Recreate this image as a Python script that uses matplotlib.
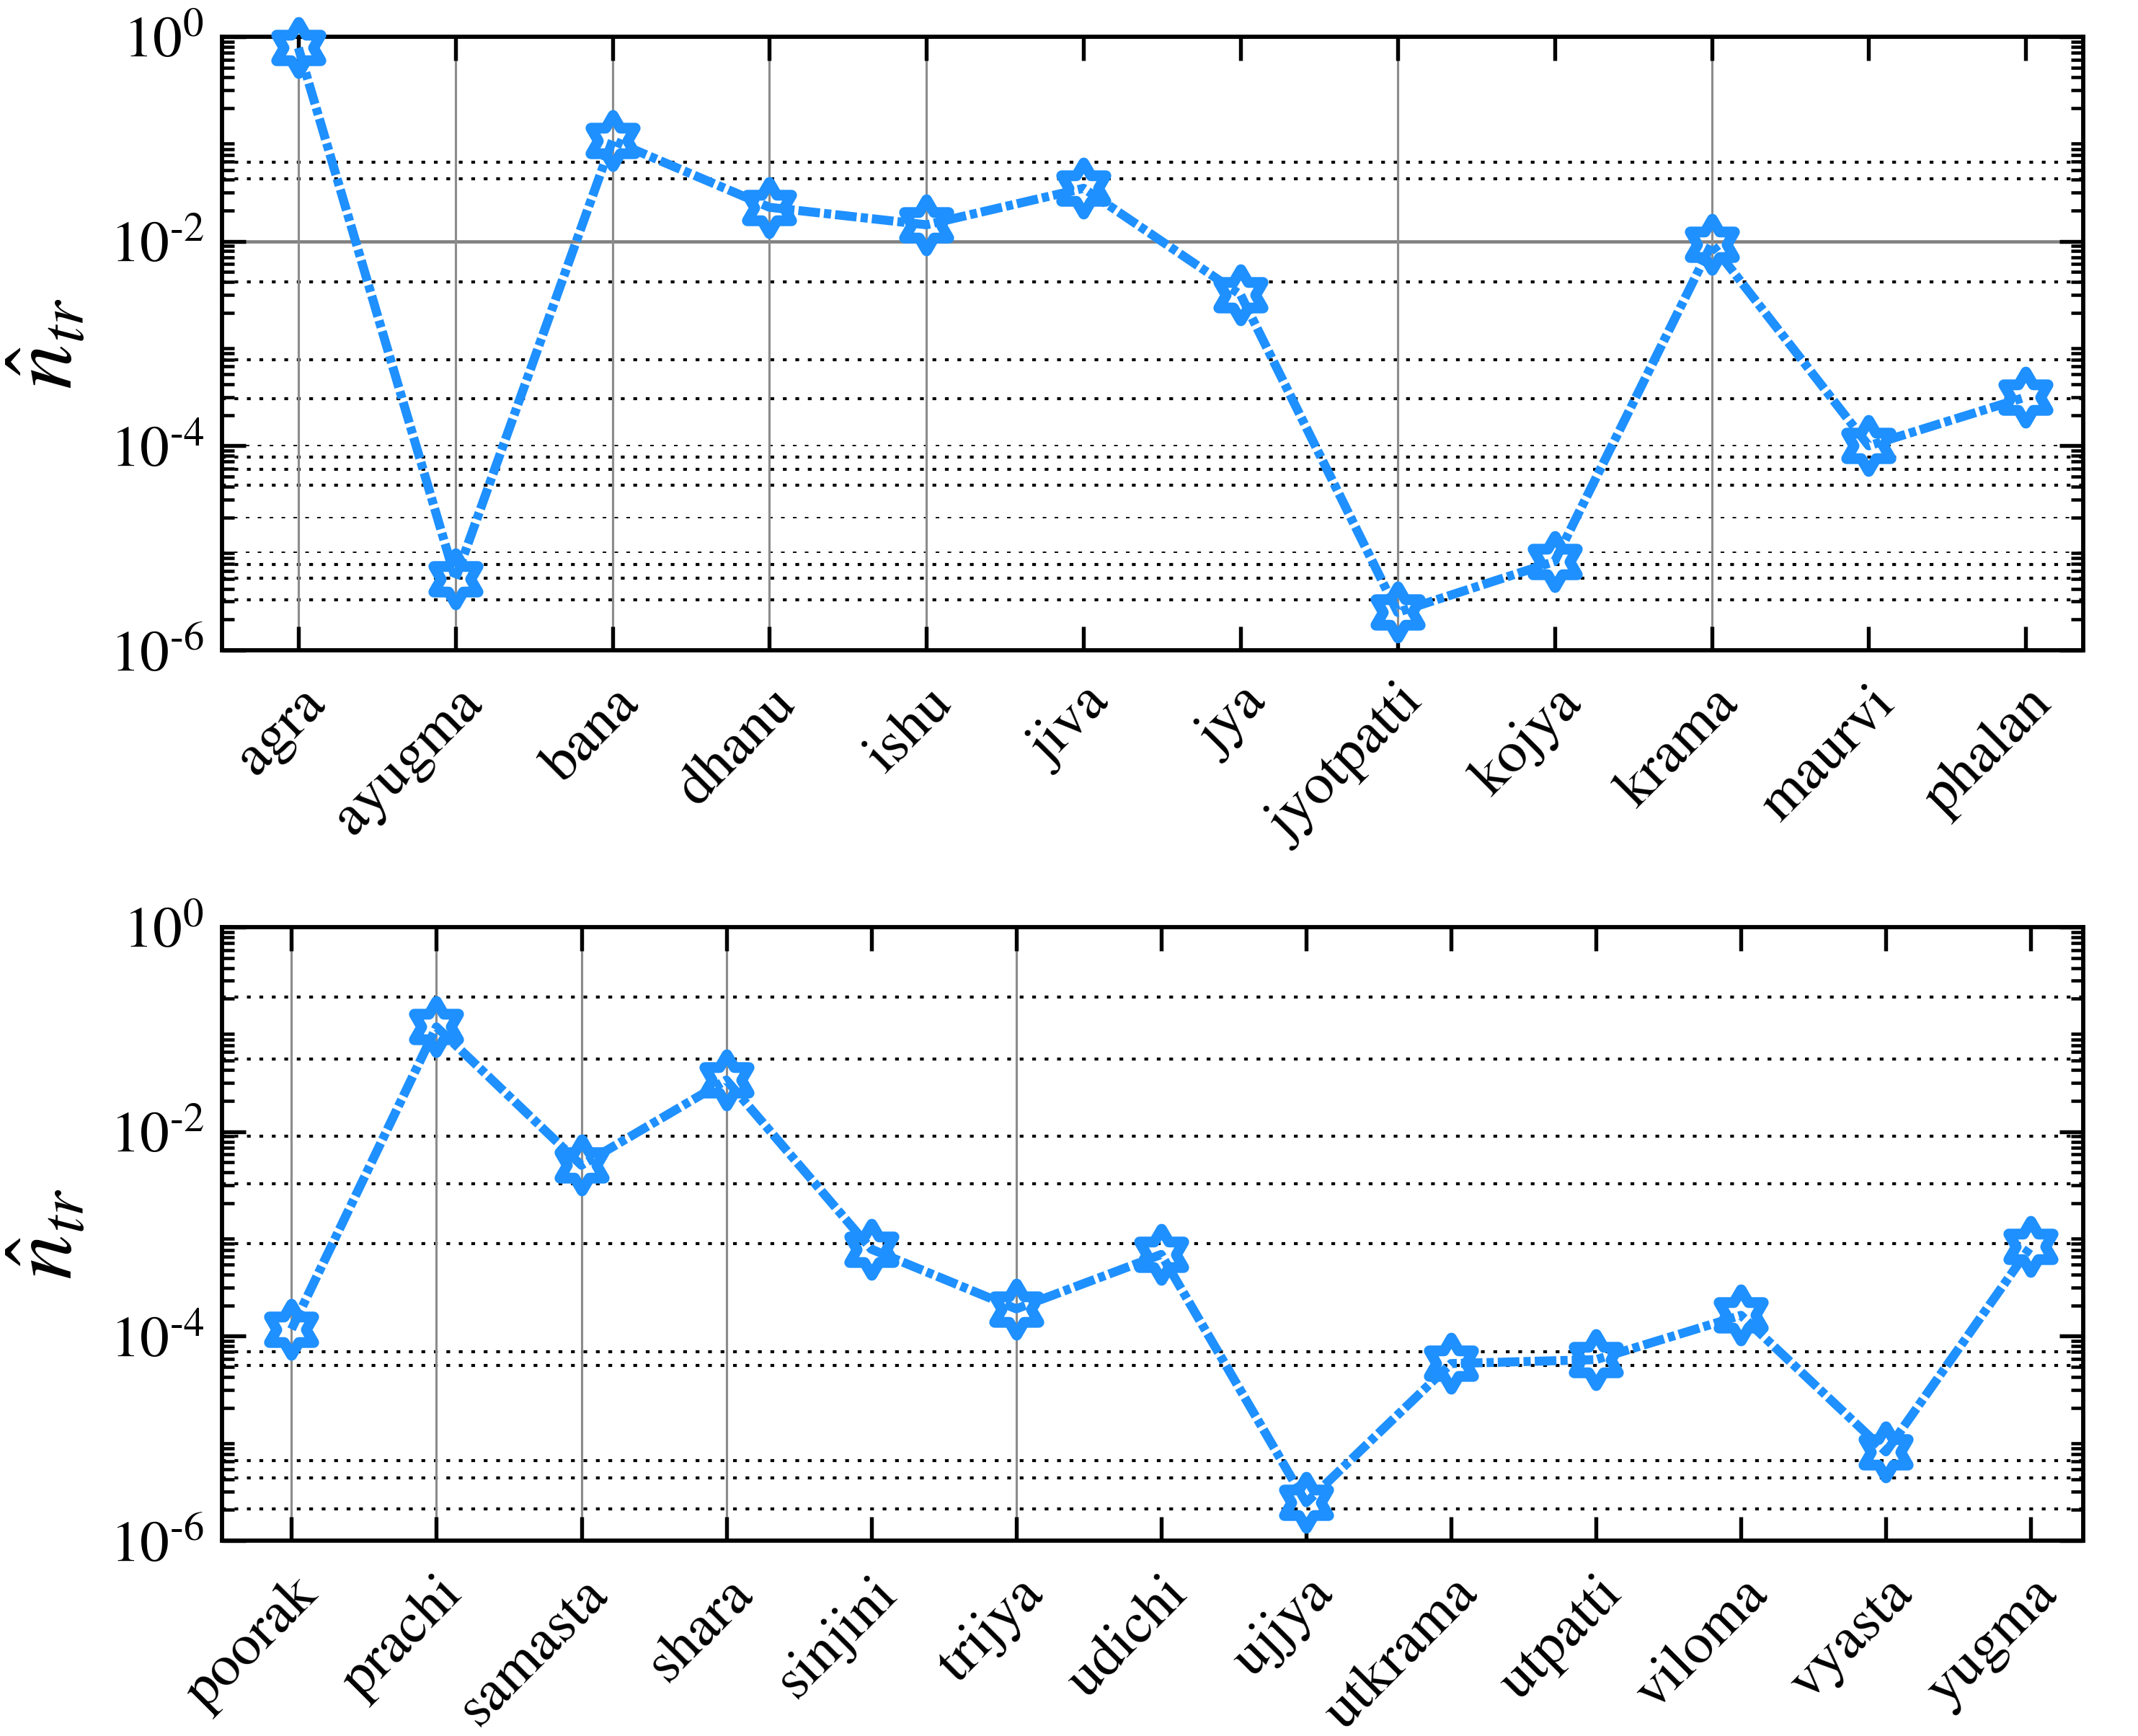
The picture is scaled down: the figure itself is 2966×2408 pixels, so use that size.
import numpy as np
import matplotlib
matplotlib.use("Agg")
import matplotlib.pyplot as plt
from matplotlib.path import Path
from matplotlib.markers import MarkerStyle
from matplotlib.ticker import FixedLocator, FixedFormatter, LogLocator, NullFormatter

plt.rcParams['font.family'] = ['STIXGeneral', 'Liberation Serif', 'DejaVu Serif']
plt.rcParams['mathtext.fontset'] = 'stix'

# ---------------- data ----------------
top_labels = ['agra', 'ayugma', 'bana', 'dhanu', 'ishu', 'jiva', 'jya',
              'jyotpatti', 'kojya', 'krama', 'maurvi', 'phalan']
top_values = [0.78, 5.0e-6, 0.097, 0.0215, 0.0145, 0.033, 0.003,
              2.35e-6, 7.4e-6, 0.0094, 1.0e-4, 3.0e-4]

bot_labels = ['poorak', 'prachi', 'samasta', 'shara', 'sinjini', 'trijya',
              'udichi', 'ujjya', 'utkrama', 'utpatti', 'viloma', 'vyasta', 'yugma']
bot_values = [1.17e-4, 0.106, 0.0047, 0.032, 7.1e-4, 1.85e-4, 6.3e-4,
              2.35e-6, 5.4e-5, 5.9e-5, 1.6e-4, 7.4e-6, 7.6e-4]

# horizontal dotted reference levels (grid)
top_hlines_bold = [0.0593, 0.041, 0.004, 6.9e-4, 2.9e-4, 7.8e-5, 5.9e-5, 4.1e-5,
                   6.9e-6, 5.1e-6, 3.1e-6]
top_hlines_thin = [1.0e-4, 2.0e-5, 9.1e-6]
bot_hlines_bold = [0.209, 0.051, 0.0091, 0.0031, 8.1e-4, 7.1e-5, 5.2e-5,
                   6.1e-6, 4.1e-6, 2.03e-6]
# categories with vertical grid lines
top_vgrid = ['agra', 'ayugma', 'bana', 'dhanu', 'ishu', 'jyotpatti', 'krama']
bot_vgrid = ['poorak', 'prachi', 'samasta', 'shara', 'trijya']

ytick_vals = [1e-6, 1e-4, 1e-2, 1e0]
ytick_text = ['$\\mathregular{10^{\u20106}}$', '$\\mathregular{10^{\u20104}}$',
              '$\\mathregular{10^{\u20102}}$', '$\\mathregular{10^{0}}$']

# hexagram marker
ang_out = np.deg2rad(90 + 60 * np.arange(6))
ang_in = ang_out + np.deg2rad(30)
r_in = 1 / np.sqrt(3)
verts = []
for ao, ai in zip(ang_out, ang_in):
    verts.append((np.cos(ao), np.sin(ao)))
    verts.append((r_in * np.cos(ai), r_in * np.sin(ai)))
verts.append(verts[0])
codes = [Path.MOVETO] + [Path.LINETO] * 11 + [Path.CLOSEPOLY]
hexagram = MarkerStyle(Path(verts, codes), joinstyle='miter')

BLUE = '#1E90FF'

fig = plt.figure(figsize=(2966 / 300, 2408 / 300), dpi=300)
ax1 = fig.add_axes([0.1038, 0.6254, 0.8705, 0.3534])
ax2 = fig.add_axes([0.1038, 0.1125, 0.8705, 0.3534])


def style(ax, labels, values, hb, ht, vgrid, solid_major, xlim):
    x = np.arange(1, len(labels) + 1)
    ax.set_yscale('log')
    ax.set_ylim(1e-6, 1e0)
    ax.set_xlim(*xlim)
    for v in hb:
        ax.axhline(v, color='black', ls=(0, (1.25, 2.9)), lw=1.0, zorder=1)
    for v in ht:
        ax.axhline(v, color='black', ls=(0, (2.7, 6.1)), lw=0.45, zorder=1)
    for v in solid_major:
        ax.axhline(v, color='#808080', lw=1.1, zorder=1)
    for lab in vgrid:
        xi = labels.index(lab) + 1
        ax.axvline(xi, color='#8c8c8c', lw=0.75, zorder=1)
    ax.plot(x, values, color=BLUE, lw=3.0, ls=(0, (2.4, 0.45, 0.8, 0.45)),
            marker=hexagram, markersize=17, markerfacecolor='none',
            markeredgecolor=BLUE, markeredgewidth=3.6, zorder=5, clip_on=False)
    ax.xaxis.set_major_locator(FixedLocator(x))
    ax.xaxis.set_major_formatter(FixedFormatter(labels))
    ax.yaxis.set_major_locator(FixedLocator(ytick_vals))
    ax.yaxis.set_major_formatter(FixedFormatter(ytick_text))
    ax.yaxis.set_minor_locator(LogLocator(base=10, subs=np.arange(2, 10), numticks=20))
    ax.yaxis.set_minor_formatter(NullFormatter())
    ax.tick_params(axis='both', which='major', direction='in', length=8, width=1.3,
                   top=True, right=True, labelsize=19.5)
    ax.tick_params(axis='y', which='minor', direction='in', length=4, width=1.1,
                   left=True, right=True)
    ax.tick_params(axis='x', which='major', pad=9)
    ax.tick_params(axis='y', which='major', pad=6)
    for lbl in ax.get_xticklabels():
        lbl.set_rotation(45)
        lbl.set_ha('right')
        lbl.set_rotation_mode('anchor')
    for s in ax.spines.values():
        s.set_linewidth(1.4)
    ax.set_ylabel(r'$\hat{n}_{tr}$', fontsize=30)
    ax.yaxis.set_label_coords(-0.07, 0.5)


style(ax1, top_labels, top_values, top_hlines_bold, top_hlines_thin, top_vgrid,
      [1e-2], (0.513, 12.365))
style(ax2, bot_labels, bot_values, bot_hlines_bold, [], bot_vgrid,
      [], (0.52, 13.36))

fig.savefig('out.png', dpi=300)
